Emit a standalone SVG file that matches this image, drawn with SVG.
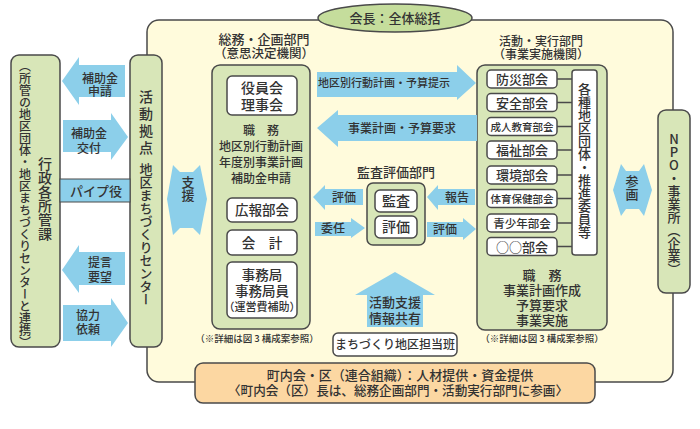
<svg xmlns="http://www.w3.org/2000/svg" width="700" height="429" viewBox="0 0 700 429">
<style>
.t{font-family:"Noto Sans CJK JP","Noto Sans CJK SC",sans-serif;font-weight:500;fill:#333;text-anchor:middle}
.v{writing-mode:vertical-rl;text-anchor:start}
.up{text-orientation:upright}
.b{stroke:#4a4a4a;stroke-width:1.5}
.g{fill:#d8e6b8}
.w{fill:#fff}
.a{fill:#8ccfea}
.ln{stroke:#4a4a4a;stroke-width:1.5;fill:none}
</style>
<rect width="700" height="429" fill="#fff"/>
<g id="main-frame">
<rect class="b" x="147" y="20" width="526" height="362" rx="12" fill="#fffbdc"/>
</g>
<g id="chairman">
<ellipse class="b" cx="395" cy="18" rx="77" ry="14" fill="#c5dd9c"/>
<text class="t" x="395" y="23" font-size="13">会長：全体総括</text>
</g>
<g id="gov">
<rect class="b g" x="11" y="55" width="49" height="292" rx="8"/>
<text class="t v" x="45" y="157" font-size="14">行政各所管課</text>
<text class="t v" x="25" y="60" font-size="12">（所管の地区団体・地区まちづくりセンターと連携）</text>
</g>
<g id="center">
<rect class="b g" x="130" y="55" width="32" height="292" rx="8"/>
<text class="t v" x="146" y="90" font-size="14" letter-spacing="3">活動拠点</text>
<text class="t v" x="146" y="163" font-size="13">地区まちづくりセンター</text>
</g>
<g id="npo">
<rect class="b g" x="658" y="110" width="32" height="183" rx="8"/>
<text class="t v up" x="674" y="133" font-size="13">NPO・事業所（企業）</text>
</g>
<g id="soumu">
<text class="t" x="264" y="44" font-size="13">総務・企画部門<tspan x="264" dy="14" font-size="12.5">（意思決定機関）</tspan></text>
<rect class="b g" x="212" y="65" width="98" height="264" rx="8"/>
<rect class="b w" x="227" y="76" width="70" height="39" rx="5"/>
<text class="t" x="262" y="93" font-size="14">役員会<tspan x="262" dy="17">理事会</tspan></text>
<text class="t" x="261" y="134.5" font-size="12">職　務<tspan x="261" dy="16.5">地区別行動計画</tspan><tspan x="261" dy="16">年度別事業計画</tspan><tspan x="261" dy="16">補助金申請</tspan></text>
<rect class="b w" x="227" y="198" width="70" height="24" rx="5"/>
<text class="t" x="262" y="215" font-size="13.5">広報部会</text>
<rect class="b w" x="227" y="230" width="70" height="25" rx="5"/>
<text class="t" x="262" y="247.5" font-size="13.5">会　計</text>
<rect class="b w" x="227" y="262" width="70" height="56" rx="5"/>
<text class="t" x="262" y="280" font-size="13.5">事務局<tspan x="262" dy="16">事務局員</tspan><tspan x="262" dy="15" font-size="11">（運営費補助）</tspan></text>
<text class="t" x="257" y="341.5" font-size="9.5">（※詳細は図 3 構成案参照）</text>
</g>
<g id="katsudo">
<text class="t" x="541" y="46" font-size="12">活動・実行部門<tspan x="541" dy="13">（事業実施機関）</tspan></text>
<rect class="b g" x="477" y="65" width="130" height="265" rx="8"/>
<rect class="b w" x="487" y="70" width="70" height="18" rx="4"/>
<text class="t" x="522" y="84" font-size="13">防災部会</text>
<rect class="b w" x="487" y="93.5" width="70" height="18" rx="4"/>
<text class="t" x="522" y="107.5" font-size="13">安全部会</text>
<rect class="b w" x="487" y="117.5" width="70" height="18" rx="4"/>
<text class="t" x="522" y="130.5" font-size="10.5">成人教育部会</text>
<rect class="b w" x="487" y="141" width="70" height="18" rx="4"/>
<text class="t" x="522" y="155" font-size="13">福祉部会</text>
<rect class="b w" x="487" y="166" width="70" height="18" rx="4"/>
<text class="t" x="522" y="180" font-size="13">環境部会</text>
<rect class="b w" x="487" y="189.5" width="70" height="18" rx="4"/>
<text class="t" x="522" y="202.5" font-size="10.5">体育保健部会</text>
<rect class="b w" x="487" y="214" width="70" height="18" rx="4"/>
<text class="t" x="522" y="227.5" font-size="11.5">青少年部会</text>
<rect class="b w" x="487" y="237.5" width="70" height="18" rx="4"/>
<text class="t" x="522" y="251.5" font-size="13">○○部会</text>
<rect class="b w" x="572" y="70" width="25" height="185" rx="3"/>
<text class="t v" x="584.5" y="83" font-size="13">各種地区団体・推進委員等</text>
<text class="t" x="542" y="280" font-size="13">職　務<tspan x="542" dy="15">事業計画作成</tspan><tspan x="542" dy="15">予算要求</tspan><tspan x="542" dy="15">事業実施</tspan></text>
<text class="t" x="542" y="341.5" font-size="9.5">（※詳細は図 3 構成案参照）</text>
</g>
<g id="kansa">
<text class="t" x="396" y="177" font-size="13">監査評価部門</text>
<rect class="b g" x="367" y="183" width="58" height="62" rx="6"/>
<rect class="b w" x="375" y="190" width="42" height="22" rx="5"/>
<text class="t" x="396" y="206" font-size="14">監査</text>
<rect class="b w" x="375" y="216" width="42" height="22" rx="5"/>
<text class="t" x="396" y="232" font-size="14">評価</text>
</g>
<g id="tantou">
<rect class="b w" x="333" y="333" width="124" height="23" rx="5"/>
<text class="t" x="395" y="349" font-size="12">まちづくり地区担当班</text>
</g>
<g id="chounaikai">
<rect class="b" x="195" y="363" width="400" height="40" rx="8" fill="#fcd7a2"/>
<text class="t" x="400" y="380" font-size="13">町内会・区（連合組織）：人材提供・資金提供<tspan x="398" dy="15" font-size="12.6">〈町内会（区）長は、総務企画部門・活動実行部門に参画〉</tspan></text>
</g>
<g id="connectors">
<path class="ln" d="M557 79H572M557 102.5H572M557 126.5H572M557 150H572M557 175H572M557 198.5H572M557 223H572M557 246.5H572"/>
<polygon class="a" points="62,81 79,57 79,65 125,65 125,97 79,97 79,105"/>
<text class="t" x="100" y="83" font-size="12">補助金<tspan x="100" dy="13">申請</tspan></text>
<polygon class="a" points="63,120 111,120 111,113 128,137 111,160 111,152 63,152"/>
<text class="t" x="89" y="138" font-size="12">補助金<tspan x="89" dy="15">交付</tspan></text>
<rect class="a" x="60" y="179" width="70" height="23" stroke="#4a4a4a" stroke-width="1"/>
<text class="t" x="96" y="196" font-size="13">パイプ役</text>
<polygon class="a" points="62,270 79,245 79,252 125,252 125,285 79,285 79,293"/>
<text class="t" x="100" y="267" font-size="12">提言<tspan x="100" dy="15">要望</tspan></text>
<polygon class="a" points="63,305 111,305 111,298 128,323 111,347 111,341 63,341"/>
<text class="t" x="88" y="320" font-size="12">協力<tspan x="88" dy="14">依頼</tspan></text>
<polygon class="a" points="167,199 173,165 180,172 193,172 200,165 207,199 200,235 193,228 180,228 173,235"/>
<text class="t v" x="188" y="176" font-size="13">支援</text>
<polygon class="a" points="613,190 621,164 626,171 639,171 644,164 652,190 644,216 639,209 626,209 621,216"/>
<text class="t v" x="632" y="175" font-size="13">参画</text>
<polygon class="a" points="317,72 457,72 457,65 476,83 457,100 457,97 317,97"/>
<text class="t" x="384" y="87" font-size="11">地区別行動計画・予算提示</text>
<polygon class="a" points="317,128 338,110 338,115 477,115 477,141 338,141 338,147"/>
<text class="t" x="402" y="132.5" font-size="12">事業計画・予算要求</text>
<polygon class="a" points="313,197 325,185 325,189 363,189 363,205 325,205 325,210"/>
<text class="t" x="344" y="201.5" font-size="12">評価</text>
<polygon class="a" points="315,222 351,222 351,218 365,228 351,238 351,236 315,236"/>
<text class="t" x="333" y="233" font-size="12">委任</text>
<polygon class="a" points="427,197 438,185 438,189 475,189 475,205 438,205 438,210"/>
<text class="t" x="457" y="201.5" font-size="12">報告</text>
<polygon class="a" points="427,222 463,222 463,218 476,229 463,240 463,237 427,237"/>
<text class="t" x="445" y="233.5" font-size="12">評価</text>
<polygon class="a" points="395,272 435,295 423,295 423,327 367,327 367,295 355,295"/>
<text class="t" x="395" y="307" font-size="13">活動支援<tspan x="395" dy="16">情報共有</tspan></text>
</g>
</svg>
